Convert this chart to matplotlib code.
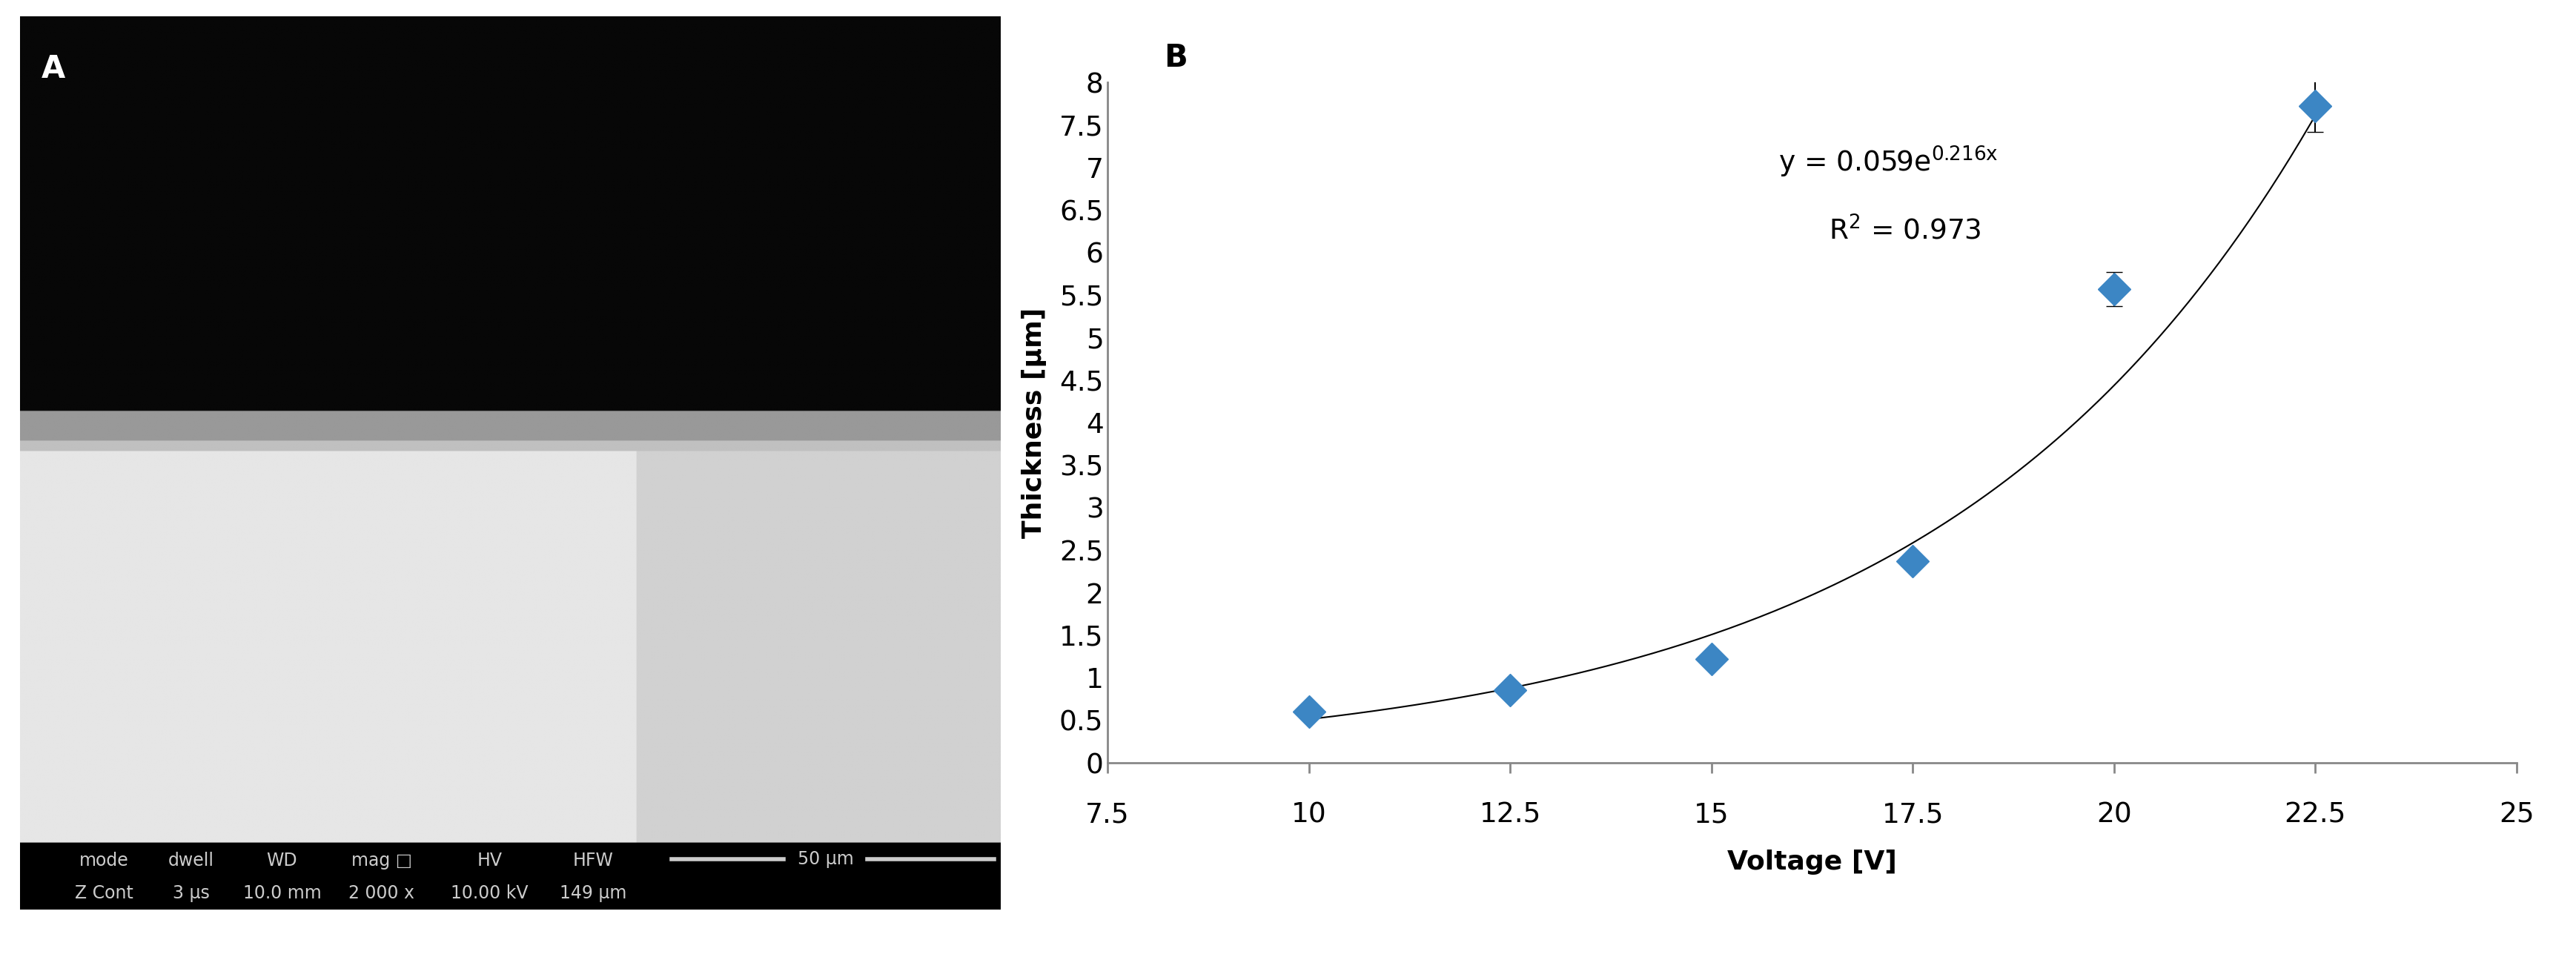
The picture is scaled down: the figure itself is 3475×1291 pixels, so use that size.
import matplotlib
matplotlib.use("Agg")
import matplotlib.pyplot as plt
import numpy as np

plt.rcParams['font.family'] = ['DejaVu Sans']

voltage = [10, 12.5, 15, 17.5, 20, 22.5]
thickness = [0.6, 0.85, 1.22, 2.37, 5.57, 7.72]
err = [0.05, 0.05, 0.05, 0.08, 0.2, 0.3]
fit_a, fit_b = 0.059, 0.216
r2 = 0.973

info_heads = ['mode', 'dwell', 'WD', 'mag \u25a1', 'HV', 'HFW']
info_vals = ['Z Cont', '3 \u00b5s', '10.0 mm', '2 000 x', '10.00 kV', '149 \u00b5m']

fig = plt.figure(figsize=(34.75, 12.91), dpi=100)

# panel A: schematic SEM image
axA = fig.add_axes([27/3475, 1 - 1227/1291, 1323/3475, 1205/1291])
h, w = 600, 700
img = np.full((h, w), 0.9)
img[:265, :] = 0.03
img[265:285, :] = 0.6
img[285:292, :] = 0.75
img[292:, 440:] = 0.82
img[555:, :] = 0.0
axA.imshow(img, cmap='gray', vmin=0, vmax=1, aspect='auto', extent=[0, w, h, 0])
axA.set_xlim(0, w)
axA.set_ylim(h, 0)
axA.axis('off')
axA.text(15, 25, 'A', color='white', fontsize=30, fontweight='bold', va='top')
cols = [60, 122, 187, 258, 335, 409]
for x, a, b in zip(cols, info_heads, info_vals):
    axA.text(x, 567, a, color='#cccccc', fontsize=17, ha='center', va='center')
    axA.text(x, 589, b, color='#cccccc', fontsize=17, ha='center', va='center')
axA.plot([465, 545], [566, 566], color='#cccccc', lw=4)
axA.plot([605, 695], [566, 566], color='#cccccc', lw=4)
axA.text(575, 566, '50 \u00b5m', color='#cccccc', fontsize=17, ha='center', va='center')

# panel B
ax = fig.add_axes([1494/3475, 1 - 1029/1291, 1901/3475, 918/1291])
xs = np.linspace(10, 22.5, 200)
ax.plot(xs, fit_a * np.exp(fit_b * xs), color='black', lw=1.5)
ax.errorbar(voltage, thickness, yerr=err, fmt='D', color='#3C86C4', ms=22,
            ecolor='black', elinewidth=1.5, capsize=8, zorder=3)
ax.set_xlim(7.5, 25)
ax.set_ylim(0, 8)
ax.set_xticks(np.arange(7.5, 25.1, 2.5))
ax.set_xticklabels(['7.5', '10', '12.5', '15', '17.5', '20', '22.5', '25'])
ax.set_yticks(np.arange(0, 8.1, 0.5))
ax.set_yticklabels(['0'] + ['%g' % v for v in np.arange(0.5, 8.1, 0.5)])
for s in ['top', 'right']:
    ax.spines[s].set_visible(False)
for s in ['left', 'bottom']:
    ax.spines[s].set_color('#888888')
    ax.spines[s].set_linewidth(2)
ax.tick_params(axis='both', labelsize=27, color='#888888', width=2, length=10)
ax.tick_params(axis='x', direction='out', pad=28)
ax.tick_params(axis='y', direction='in', length=0, pad=4)
ax.set_xlabel('Voltage [V]', fontsize=26, fontweight='bold', labelpad=20)
ax.set_ylabel('Thickness [\u00b5m]', fontsize=26, fontweight='bold', labelpad=12)
ax.text(17.2, 6.95, 'y = %.3fe$^{\\mathregular{%.3fx}}$' % (fit_a, fit_b), fontsize=27, ha='center')
ax.text(17.4, 6.15, 'R$^{\\mathregular{2}}$ = %.3f' % r2, fontsize=27, ha='center')
fig.text(1570/3475, 1 - 90/1291, 'B', fontsize=30, fontweight='bold')

fig.savefig('out.png', dpi=100)
